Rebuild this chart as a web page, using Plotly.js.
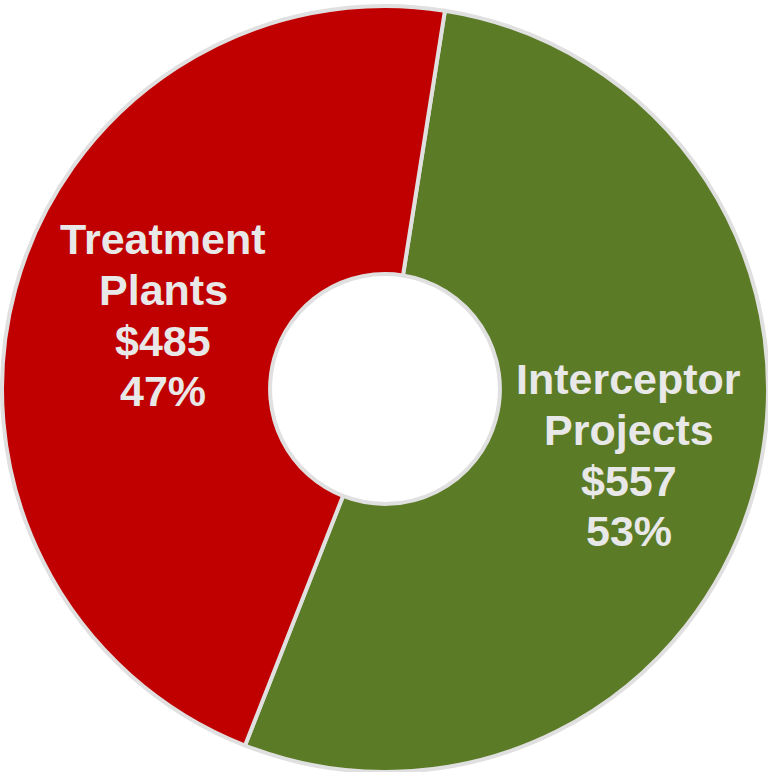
<!DOCTYPE html>
<html>
<head>
<meta charset="utf-8">
<script src="https://cdn.plot.ly/plotly-3.0.1.min.js"></script>
<style>html,body{margin:0;padding:0;background:#fff;}#chart{width:768px;height:772px;}</style>
</head>
<body>
<div id="chart"></div>
<script>
const categories = ["Interceptor Projects", "Treatment Plants"];
const nameLines = [["Interceptor", "Projects"], ["Treatment", "Plants"]];
const values = [557, 485];
const valueLabels = ["$557", "$485"];
const percentLabels = ["53%", "47%"];
const colors = ["#5B7B26", "#C00000"];

// layout settings
const W = 768, H = 772;
const margin = { l: 2, r: 0, t: 6, b: 0 };
const plotW = W - margin.l - margin.r, plotH = H - margin.t - margin.b;
const rotation = 9;
const labelRadius = [0.66, 0.61];
const labelAngleOffset = [0, 3.2];
const lineSpacingPx = 50.7;
const fontSize = 43;

const trace = {
  type: "pie",
  labels: categories,
  values: values,
  textinfo: "none",
  hoverinfo: "label+value+percent",
  sort: false,
  direction: "clockwise",
  rotation: rotation,
  hole: 0.3,
  marker: { colors: colors, line: { color: "#E0E0E0", width: 4 } },
  domain: { x: [0, 1], y: [0, 1] }
};

// label annotations positioned at each slice's mid-angle
const total = values.reduce((a, b) => a + b, 0);
const annotations = [];
let cum = 0;
values.forEach((v, i) => {
  const mid = rotation + (cum + v / 2) / total * 360 + labelAngleOffset[i];
  cum += v;
  const th = mid * Math.PI / 180;
  const cx = 0.5 + labelRadius[i] * 0.5 * Math.sin(th);
  const cy = 0.5 + labelRadius[i] * 0.5 * Math.cos(th);
  const lines = nameLines[i].concat([valueLabels[i], percentLabels[i]]);
  lines.forEach((t, k) => {
    const off = (k - (lines.length - 1) / 2) * lineSpacingPx;
    annotations.push({
      xref: "paper", yref: "paper",
      x: cx, y: cy - off / plotH,
      xanchor: "center", yanchor: "middle",
      text: "<b>" + t + "</b>",
      showarrow: false,
      font: { family: "Liberation Sans, Arial, sans-serif", size: fontSize, color: "#E8E8E8" }
    });
  });
});

const layout = {
  width: W,
  height: H,
  margin: margin,
  showlegend: false,
  paper_bgcolor: "#ffffff",
  annotations: annotations
};

Plotly.newPlot("chart", [trace], layout, { displayModeBar: false, staticPlot: true });
</script>
</body>
</html>
